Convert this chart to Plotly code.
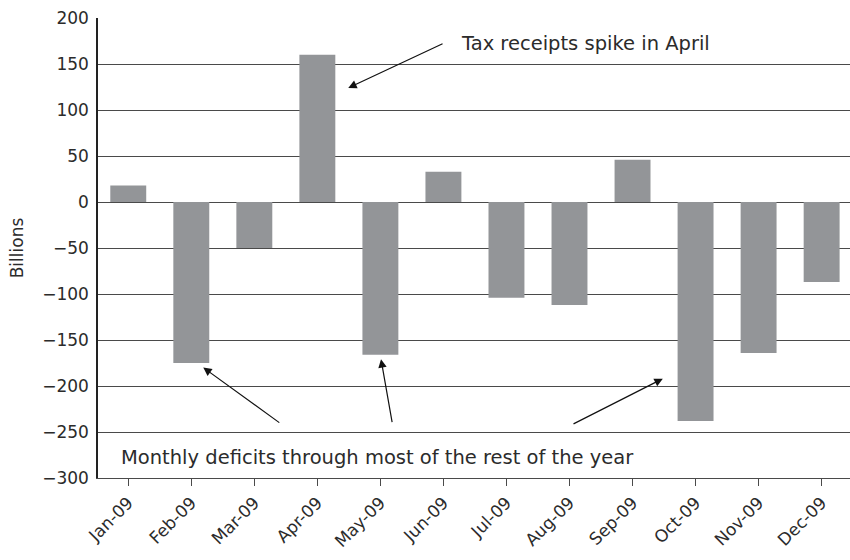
import plotly.graph_objects as go

# Monthly federal budget surplus / deficit, 2009 (billions of dollars)
months = ["Jan-09", "Feb-09", "Mar-09", "Apr-09", "May-09", "Jun-09",
          "Jul-09", "Aug-09", "Sep-09", "Oct-09", "Nov-09", "Dec-09"]
balance = [18, -175, -50, 160, -166, 33, -104, -112, 46, -238, -164, -87]

y_ticks = [200, 150, 100, 50, 0, -50, -100, -150, -200, -250, -300]
y_tick_text = [str(v).replace("-", "\u2212") for v in y_ticks]

FONT = "DejaVu Sans"
BAR = "#939598"
GRID = "#4a4a4a"
TEXT = "#2b2b2b"

fig = go.Figure()
fig.add_trace(go.Bar(
    x=list(range(len(months))),
    y=balance,
    width=0.57,
    marker=dict(color=BAR, line=dict(width=0)),
    hoverinfo="skip",
))

# Annotation callouts: label text plus arrows pointing at the bars
def arrow(x0, y0, x1, y1):
    fig.add_annotation(
        x=x1, y=y1, ax=x0, ay=y0, xref="x", yref="y", axref="x", ayref="y",
        text="", showarrow=True, arrowhead=2, arrowsize=1.4, arrowwidth=1.2,
        arrowcolor="#111111",
    )

fig.add_annotation(x=5.25, y=172.8, xref="x", yref="y", text="Tax receipts spike in April",
                   showarrow=False, xanchor="left", yanchor="middle",
                   font=dict(family=FONT, size=19.5, color=TEXT))
arrow(5.01, 172.8, 3.49, 124)

fig.add_annotation(x=-0.15, y=-278, xref="x", yref="y",
                   text="Monthly deficits through most of the rest of the year",
                   showarrow=False, xanchor="left", yanchor="middle",
                   font=dict(family=FONT, size=19.5, color=TEXT))
arrow(2.42, -241, 1.19, -180)
arrow(4.19, -241, 4.01, -171)
arrow(7.04, -242, 8.48, -192)

fig.update_layout(
    width=850, height=560,
    margin=dict(l=98, r=0, t=18, b=82),
    paper_bgcolor="white", plot_bgcolor="white",
    showlegend=False,
    font=dict(family=FONT, size=16, color=TEXT),
    bargap=0.43,
)
fig.update_xaxes(
    range=[-0.48, 11.45],
    tickmode="array", tickvals=list(range(len(months))), ticktext=months,
    tickangle=-45, tickfont=dict(family=FONT, size=17, color=TEXT),
    ticks="outside", ticklen=7, tickwidth=1.2, tickcolor=GRID,
    showgrid=False, zeroline=False,
    showline=True, linecolor=GRID, linewidth=1.2,
)
fig.update_yaxes(
    range=[-300, 200],
    tickmode="array", tickvals=y_ticks, ticktext=y_tick_text,
    tickfont=dict(family=FONT, size=17, color=TEXT),
    ticks="outside", ticklen=4, tickcolor="white",
    showgrid=True, gridcolor=GRID, gridwidth=1.2,
    zeroline=True, zerolinecolor=GRID, zerolinewidth=1.2,
    showline=True, linecolor="#222222", linewidth=1.5,
    title=dict(text="Billions", font=dict(family=FONT, size=17, color=TEXT), standoff=14),
)

fig.write_html("out.html")
